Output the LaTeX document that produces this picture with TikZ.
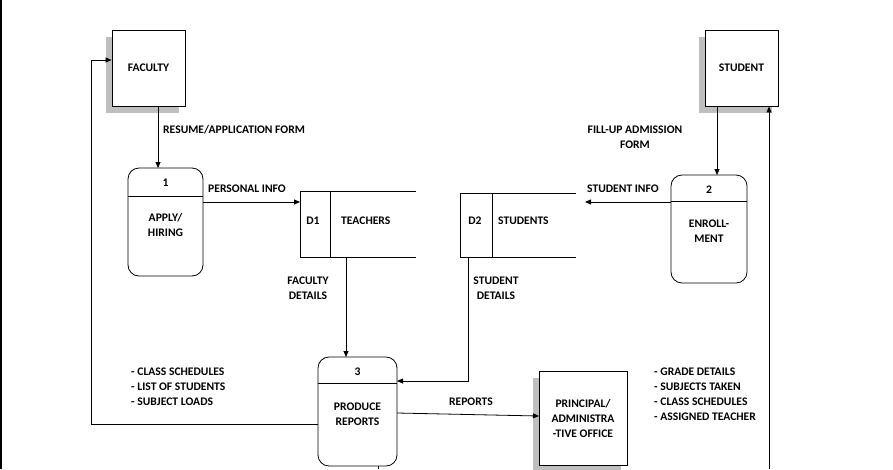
\documentclass[tikz,border=0pt]{standalone}
\usepackage{fontspec}
\setmainfont{Carlito}
\usetikzlibrary{arrows.meta}
\begin{document}
\begin{tikzpicture}[x=1pt,y=-1pt,
  every node/.style={font=\fontsize{11.6}{15}\selectfont\bfseries,inner sep=0pt},
  ln/.style={draw=black,line width=0.8pt},
  ar/.style={ln,-{Triangle[length=6pt,width=5pt]}},
  ent/.style={draw=black,line width=0.9pt,fill=white,minimum width=73pt,minimum height=76pt},
  shad/.style={fill=black!25,draw=none},
  lbl/.style={align=left,anchor=west}]
\useasboundingbox (0,0) rectangle (893,469);
\draw[line width=1.2pt] (1,0) -- (1,469);
% entities
\fill[shad] (106,37) rectangle (179,113);
\node[ent] (fac) at (148.5,68) {FACULTY};
\fill[shad] (699,37) rectangle (772,113);
\node[ent] (stu) at (741.5,68) {STUDENT};
\fill[shad] (533,378) rectangle (621,472);
\node[ent,minimum width=88pt,minimum height=94pt,align=center] (pri) at (583,418) {PRINCIPAL/\\ADMINISTRA\\-TIVE OFFICE};
% processes
\draw[ln,rounded corners=11pt] (128,168) rectangle (203,276);
\draw[ln] (128,196) -- (203,196);
\coordinate (p1t) at (158,168); \coordinate (p1r) at (203,202);
\node at (165.5,183) {1};
\node[align=center] (p1) at (165.5,225) {APPLY/\\HIRING};
\draw[ln,rounded corners=11pt] (671,175) rectangle (747,283);
\draw[ln] (671,201) -- (747,201);
\coordinate (p2t) at (717,175); \coordinate (p2l) at (671,202);
\node at (709,190) {2};
\node[align=center] (p2) at (709,231) {ENROLL-\\MENT};
\draw[ln,rounded corners=11pt] (318,357) rectangle (397,466);
\draw[ln] (318,383) -- (397,383);
\node at (357.5,372) {3};
\node[align=center] (p3) at (357.5,414) {PRODUCE\\REPORTS};
\coordinate (p3t) at (346,357); \coordinate (p3r) at (397,381);
\coordinate (p3rr) at (397,413); \coordinate (p3l) at (318,424);
\coordinate (p3b) at (378,466);
% data stores
\draw[ln] (416,191) -- (300,191) -- (300,257) -- (416,257);
\draw[ln] (330,191) -- (330,257);
\node at (313,221) {D1}; \node[anchor=west] (d1) at (341,221) {TEACHERS};
\draw[ln] (576,193) -- (460,193) -- (460,257) -- (576,257);
\draw[ln] (492,193) -- (492,257);
\node at (475,221) {D2}; \node[anchor=west] (d2) at (498,221) {STUDENTS};
\coordinate (d1l) at (300,202); \coordinate (d1b) at (346,257);
\coordinate (d2r) at (585,202); \coordinate (d2b) at (468,257);
\coordinate (pril) at (539,416);
% flows
\draw[ar] (fac.south -| p1t) -- (p1t);
\node[lbl] at (163,130) {RESUME/APPLICATION FORM};
\draw[ar] (p1r) -- (d1l);
\node[lbl] at (208,189) {PERSONAL INFO};
\draw[ar] (stu.south -| p2t) -- (p2t);
\node[align=center] at (635,137) {FILL-UP ADMISSION\\FORM};
\draw[ar] (p2l) -- (d2r);
\node[lbl] at (587,189) {STUDENT INFO};
\draw[ar] (d1b) -- (p3t);
\node[align=center] at (308,288) {FACULTY\\DETAILS};
\draw[ar] (d2b) |- (p3r);
\node[align=center] at (496,288) {STUDENT\\DETAILS};
\draw[ar] (p3rr) -- (pril);
\node at (471,402) {REPORTS};
\coordinate (fl) at (91,60);
\draw[ar] (p3l) -| (fl) -- (fac.west |- fl);
\node[lbl] at (131,387) {- CLASS SCHEDULES\\- LIST OF STUDENTS\\- SUBJECT LOADS};
\coordinate (sb) at (769,469);
\draw[ar] (sb) -- (stu.south -| sb);
\coordinate (pb) at (378,469);
\draw[ln] (p3b) -- (pb);
\node[lbl] at (654,394.5) {- GRADE DETAILS\\- SUBJECTS TAKEN\\- CLASS SCHEDULES\\- ASSIGNED TEACHER};
\end{tikzpicture}
\end{document}
